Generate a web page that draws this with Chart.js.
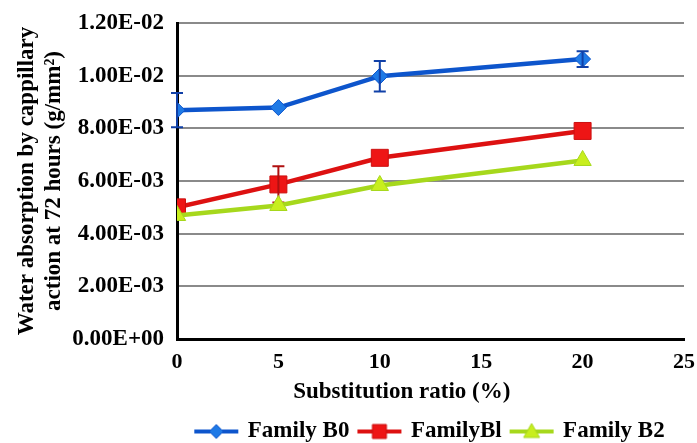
<!DOCTYPE html>
<html>
<head>
<meta charset="utf-8">
<script src="https://cdn.jsdelivr.net/npm/chart.js@4/dist/chart.umd.min.js"></script>
<style>
  html, body { margin: 0; padding: 0; background: #fff; }
  #wrap { width: 697px; height: 443px; }
</style>
</head>
<body>
<div id="wrap"><canvas id="c"></canvas></div>
<script>
// substitution ratio (%)
var ratios = [0, 5, 10, 20];
var familyB0 = [0.00869, 0.00879, 0.00998, 0.01063];
var familyB1 = [0.00500, 0.00587, 0.00688, 0.00790];
var familyB2 = [0.00469, 0.00507, 0.00583, 0.00678];
// error bar half heights
var errB0 = [0.00065, 0, 0.00058, 0.00030];
var errB1 = [0, 0.00069, 0, 0];
var errB2 = [0, 0, 0, 0];
var xTicks = [0, 5, 10, 15, 20, 25];
var yTicks = [0, 0.002, 0.004, 0.006, 0.008, 0.010, 0.012];
var seriesNames = ['Family B0', 'FamilyBl', 'Family B2'];

function sci(v) {
	var p = v.toExponential(2).split('e');
	var n = +p[1];
	return p[0] + 'E' + (n < 0 ? '-' : '+') + String(Math.abs(n)).padStart(2, '0');
}

function pts(ys) {
	return ratios.map(function(x, i) { return {x: x, y: ys[i]}; });
}

// little line+marker pictures for the legend
function legendIcon(style, line, fill, edge) {
	var cv = document.createElement('canvas');
	cv.width = 46; cv.height = 18;
	var g = cv.getContext('2d');
	g.strokeStyle = line; g.lineWidth = 4;
	g.beginPath(); g.moveTo(1, 9); g.lineTo(45, 9); g.stroke();
	g.fillStyle = fill; g.strokeStyle = edge; g.lineWidth = 1;
	g.beginPath();
	if (style == 'diamond') {
		g.moveTo(23, 2); g.lineTo(30, 9); g.lineTo(23, 16); g.lineTo(16, 9);
	} else if (style == 'square') {
		g.rect(16, 2, 14, 14);
	} else {
		g.moveTo(23, 1); g.lineTo(31, 15); g.lineTo(15, 15);
	}
	g.closePath(); g.fill(); g.stroke();
	return cv;
}
var icons = [
	legendIcon('diamond', '#0d55cc', '#1f7ae6', '#0d55cc'),
	legendIcon('square', '#dd1111', '#ee1515', '#cc1010'),
	legendIcon('triangle', '#a6d81c', '#c8ee1e', '#a6d81c')
];

var errorBars = {
	id: 'errorBars',
	afterDatasetDraw: function(chart, args) {
		var ds = chart.data.datasets[args.index];
		if (!ds.err) return;
		var xs = chart.scales.x, ys = chart.scales.y, g = chart.ctx;
		g.save();
		g.strokeStyle = ds.errColor;
		g.lineWidth = 2;
		ds.data.forEach(function(p, i) {
			var e = ds.err[i];
			if (!e) return;
			var px = xs.getPixelForValue(p.x);
			var top = ys.getPixelForValue(p.y + e);
			var bot = ys.getPixelForValue(p.y - e);
			g.beginPath();
			g.moveTo(px, top); g.lineTo(px, bot);
			g.moveTo(px - 6, top); g.lineTo(px + 6, top);
			g.moveTo(px - 6, bot); g.lineTo(px + 6, bot);
			g.stroke();
		});
		g.restore();
	}
};

Chart.defaults.font.family = '"Liberation Serif", "Times New Roman", serif';
Chart.defaults.font.weight = 'bold';
Chart.defaults.color = '#000';

new Chart(document.getElementById('c'), {
	type: 'line',
	data: {
		datasets: [
			{
				label: seriesNames[0], data: pts(familyB0), err: errB0, errColor: '#1040a8',
				borderColor: '#0d55cc', borderWidth: 4.5, backgroundColor: '#1f7ae6',
				pointStyle: 'rectRot', pointRadius: 8, pointBorderColor: '#0d55cc', pointBorderWidth: 1,
				order: 3
			},
			{
				label: seriesNames[1], data: pts(familyB1), err: errB1, errColor: '#b01010',
				borderColor: '#dd1111', borderWidth: 4.5, backgroundColor: '#ee1515',
				pointStyle: 'rect', pointRadius: 12, pointBorderColor: '#cc1010', pointBorderWidth: 1,
				order: 2
			},
			{
				label: seriesNames[2], data: pts(familyB2), err: errB2, errColor: '#88b010',
				borderColor: '#a6d81c', borderWidth: 4.5, backgroundColor: '#c8ee1e',
				pointStyle: 'triangle', pointRadius: 10, pointBorderColor: '#a6d81c', pointBorderWidth: 1,
				order: 1
			}
		]
	},
	options: {
		responsive: true,
		maintainAspectRatio: false,
		animation: false,
		layout: { padding: { top: 23, right: 7, bottom: -10, left: 13 } },
		plugins: {
			tooltip: { enabled: false },
			legend: {
				position: 'bottom',
				fullSize: false,
				labels: {
					font: { size: 23, weight: 'bold' },
					usePointStyle: true,
					pointStyleWidth: 40,
					padding: 10,
					sort: function(a, b) { return a.datasetIndex - b.datasetIndex; },
					generateLabels: function(chart) {
						return Chart.defaults.plugins.legend.labels.generateLabels(chart).map(function(l) {
							l.pointStyle = icons[l.datasetIndex];
							return l;
						});
					}
				}
			}
		},
		scales: {
			x: {
				type: 'linear',
				min: 0, max: 25,
				afterBuildTicks: function(s) { s.ticks = xTicks.map(function(v) { return {value: v}; }); },
				afterFit: function(s) { s.height = 71; s.paddingLeft = 0; s.paddingRight = 0; },
				grid: { display: false },
				border: { display: true, color: '#000', width: 3 },
				ticks: { font: { size: 22, weight: 'bold' }, padding: 2, maxRotation: 0 },
				title: {
					display: true,
					text: 'Substitution ratio (%)' + '\u00a0'.repeat(10),
					font: { size: 23, weight: 'bold' },
					padding: { top: 6, bottom: 4 }
				}
			},
			y: {
				min: 0, max: 0.012,
				afterBuildTicks: function(s) { s.ticks = yTicks.map(function(v) { return {value: v}; }); },
				afterFit: function(s) { s.width = 164; s.paddingTop = 0; s.paddingBottom = 0; },
				grid: { color: '#8a8a8a', lineWidth: 2, drawTicks: false },
				border: { display: true, color: '#000', width: 3 },
				ticks: { font: { size: 23, weight: 'bold' }, padding: 13, callback: function(v) { return sci(v); } },
				title: {
					display: true,
					text: ['Water absorption by cappillary', 'action at 72 hours (g/mm\u00b2)'],
					font: { size: 23, weight: 'bold', lineHeight: 1.2 },
					padding: { top: 0, bottom: 4 }
				}
			}
		}
	},
	plugins: [errorBars]
});
</script>
</body>
</html>
